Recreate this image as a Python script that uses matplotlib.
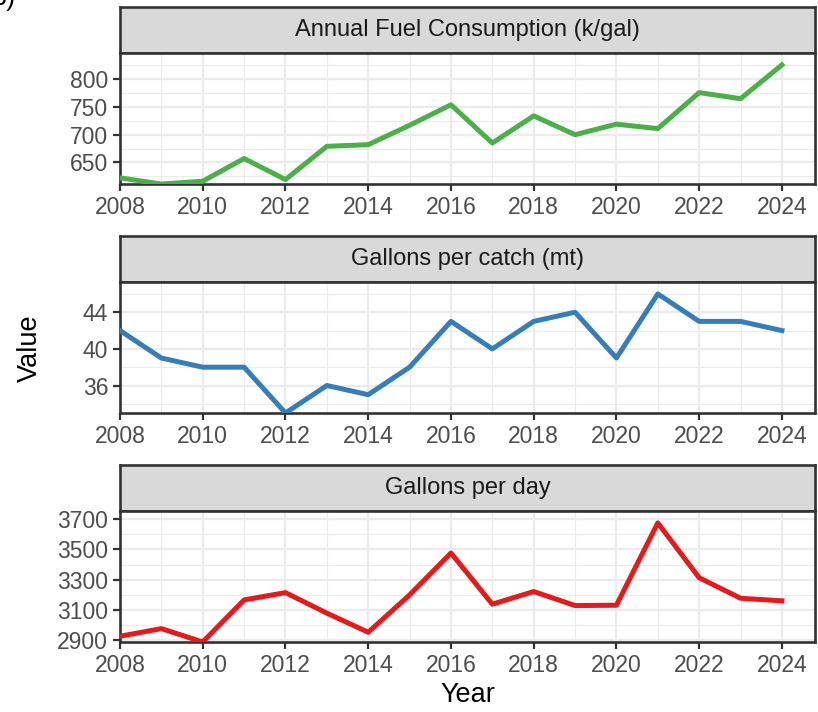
import numpy as np
import matplotlib
matplotlib.use("Agg")
import matplotlib.pyplot as plt
from matplotlib.ticker import MultipleLocator, FixedLocator

plt.rcParams['font.family'] = ['Liberation Sans', 'DejaVu Sans']

years = list(range(2008, 2025))
fuel_kgal = [622, 611, 616, 657, 619, 679, 682, 717, 754, 685, 734, 700, 719, 711, 776, 765, 826]
gal_per_catch = [42, 39, 38, 38, 33, 36, 35, 38, 43, 40, 43, 44, 39, 46, 43, 43, 42]
gal_per_day = [2928, 2978, 2890, 3167, 3215, 3080, 2954, 3200, 3476, 3139, 3222, 3130, 3132, 3674, 3313, 3178, 3161]

titles = ["Annual Fuel Consumption (k/gal)", "Gallons per catch (mt)", "Gallons per day"]
series = [fuel_kgal, gal_per_catch, gal_per_day]
colors = ["#4DAF4A", "#377EB8", "#E41A1C"]
y_ticks = [[650, 700, 750, 800], [36, 40, 44], [2900, 3100, 3300, 3500, 3700]]

W, H = 818, 712
fig = plt.figure(figsize=(W / 100, H / 100), dpi=100)

left, right = 120, 815
strip_tops = [7, 236, 465]
strip_h, panel_h = 46, 131

for i in range(3):
    top = strip_tops[i]
    # strip
    sax = fig.add_axes([left / W, 1 - (top + strip_h) / H, (right - left) / W, strip_h / H])
    sax.set_facecolor("#D9D9D9")
    sax.set_xticks([])
    sax.set_yticks([])
    for sp in sax.spines.values():
        sp.set_color("#333333")
        sp.set_linewidth(1.9)
    sax.text(0.5, 0.5, titles[i], ha='center', va='center', fontsize=17,
             color="#1A1A1A", transform=sax.transAxes)

    # panel
    ax = fig.add_axes([left / W, 1 - (top + strip_h + panel_h) / H, (right - left) / W, panel_h / H])
    vals = np.array(series[i], dtype=float)
    ax.plot(years, vals, color=colors[i], lw=3.6, zorder=3)
    lo, hi = vals.min(), vals.max()
    ax.set_ylim(lo, hi + 0.1 * (hi - lo))
    ax.set_xlim(2008, 2024 + 0.05 * 16)

    ax.xaxis.set_major_locator(MultipleLocator(2))
    ax.xaxis.set_minor_locator(MultipleLocator(1))
    yt = y_ticks[i]
    step = yt[1] - yt[0]
    ax.yaxis.set_major_locator(FixedLocator(yt))
    ax.yaxis.set_minor_locator(FixedLocator(np.arange(yt[0] - step * 1.5, yt[-1] + step * 2, step / 2)))
    ax.set_ylim(lo, hi + 0.1 * (hi - lo))

    ax.grid(which='major', color="#EBEBEB", lw=1.6, zorder=0)
    ax.grid(which='minor', color="#EBEBEB", lw=0.8, zorder=0)
    ax.set_axisbelow(True)

    ax.tick_params(which='major', length=5, width=1.6, color="#333333",
                   labelsize=16.5, labelcolor="#4D4D4D", pad=3.5)
    ax.tick_params(which='minor', length=0)
    for sp in ax.spines.values():
        sp.set_color("#333333")
        sp.set_linewidth(1.9)

fig.text(467.5 / W, 1 - 695 / H, "Year", ha='center', va='center', fontsize=19.5, color="black")
fig.text(30 / W, 1 - 348 / H, "Value", ha='center', va='center', rotation=90, fontsize=19.5, color="black")
fig.text(15 / W, 1 - 5 / H, "b)", ha='right', va='baseline', fontsize=19.5, color="black")

fig.savefig("out.png", dpi=100)
